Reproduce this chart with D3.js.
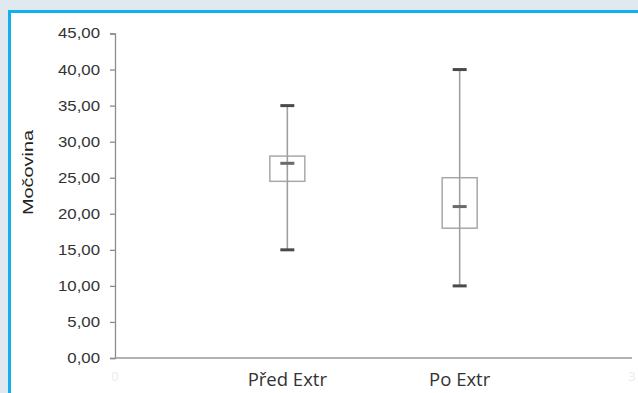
<!DOCTYPE html>
<html>
<head>
<meta charset="utf-8">
<script src="https://cdn.jsdelivr.net/npm/d3@7"></script>
<style>
  body { margin: 0; background: #dfe9ef; }
  svg { display: block; }
</style>
</head>
<body>
<svg id="chart" width="638" height="393"></svg>
<script>
// Data
const categories = ["Před Extr", "Po Extr"];
const whiskerLow = [15, 10];
const boxLow = [24.5, 18];
const medians = [27, 21];
const boxHigh = [28, 25];
const whiskerHigh = [35, 40];
const yTicks = [0, 5, 10, 15, 20, 25, 30, 35, 40, 45];

const svg = d3.select("#chart");

// Frame
svg.append("rect")
  .attr("x", 9.5).attr("y", 11.5)
  .attr("width", 640).attr("height", 400)
  .attr("fill", "#fff")
  .attr("stroke", "#12b1ec")
  .attr("stroke-width", 3);

const x0 = 115, x1 = 632, yTop = 33.5, yBot = 358;

// Scales: category positions 1..n on a 0..n+1 axis
const x = d3.scaleLinear().domain([0, categories.length + 1]).range([x0, x1]);
const y = d3.scaleLinear().domain([0, 45]).range([yBot, yTop]);

// Y axis
const yAxis = svg.append("g")
  .attr("transform", `translate(${x0},0)`)
  .call(d3.axisLeft(y).tickValues(yTicks).tickSize(5).tickPadding(0)
    .tickFormat(d => d3.format(".2f")(d).replace(".", ",")));
yAxis.select(".domain").attr("stroke", "#8c8c8c").attr("stroke-width", 1.3);
yAxis.selectAll(".tick line").attr("stroke", "#8c8c8c").attr("stroke-width", 1.3);
yAxis.selectAll(".tick text")
  .attr("x", -15 / 1.2)
  .attr("transform", "scale(1.2,1)")
  .attr("font-family", "Liberation Sans, Arial, sans-serif")
  .attr("font-size", 14)
  .attr("fill", "#333");

// X axis line
svg.append("line")
  .attr("x1", x0).attr("x2", x(categories.length + 1))
  .attr("y1", yBot).attr("y2", yBot)
  .attr("stroke", "#9a9a9a")
  .attr("stroke-width", 1.6);

// Faint end labels
[0, categories.length + 1].forEach(v => {
  svg.append("text")
    .attr("x", x(v)).attr("y", 381)
    .attr("text-anchor", "middle")
    .attr("font-family", "Open Sans, sans-serif")
    .attr("font-size", 13)
    .attr("fill", "#ececec")
    .text(v);
});

// Category labels
svg.selectAll(".cat")
  .data(categories)
  .enter()
  .append("text")
  .attr("class", "cat")
  .attr("x", (d, i) => x(i + 1))
  .attr("y", 386)
  .attr("text-anchor", "middle")
  .attr("font-family", "Open Sans, sans-serif")
  .attr("font-size", 18.5)
  .attr("fill", "#333")
  .text(d => d);

// Y label
svg.append("text")
  .attr("transform", "translate(33,172.5) rotate(-90)")
  .attr("text-anchor", "middle")
  .attr("font-family", "Liberation Sans, Arial, sans-serif")
  .attr("font-size", 14)
  .attr("textLength", 85)
  .attr("lengthAdjust", "spacingAndGlyphs")
  .attr("fill", "#222")
  .text("Močovina");

// Boxes
const boxW = 35, capW = 14;
const g = svg.selectAll(".box")
  .data(categories.map((c, i) => ({
    c, i, lo: whiskerLow[i], q1: boxLow[i], med: medians[i], q3: boxHigh[i], hi: whiskerHigh[i]
  })))
  .enter()
  .append("g")
  .attr("class", "box");

g.append("rect")
  .attr("x", d => x(d.i + 1) - boxW / 2)
  .attr("y", d => y(d.q3))
  .attr("width", boxW)
  .attr("height", d => y(d.q1) - y(d.q3))
  .attr("fill", "none")
  .attr("stroke", "#a8a8a8")
  .attr("stroke-width", 1.5);

g.append("line")
  .attr("x1", d => x(d.i + 1)).attr("x2", d => x(d.i + 1))
  .attr("y1", d => y(d.hi)).attr("y2", d => y(d.lo))
  .attr("stroke", "#a0a0a0")
  .attr("stroke-width", 1.6);

["hi", "lo", "med"].forEach(k => {
  g.append("line")
    .attr("x1", d => x(d.i + 1) - capW / 2).attr("x2", d => x(d.i + 1) + capW / 2)
    .attr("y1", d => y(d[k])).attr("y2", d => y(d[k]))
    .attr("stroke", k === "med" ? "#6a6a6a" : "#4a4a4a")
    .attr("stroke-width", 3);
});
</script>
</body>
</html>
